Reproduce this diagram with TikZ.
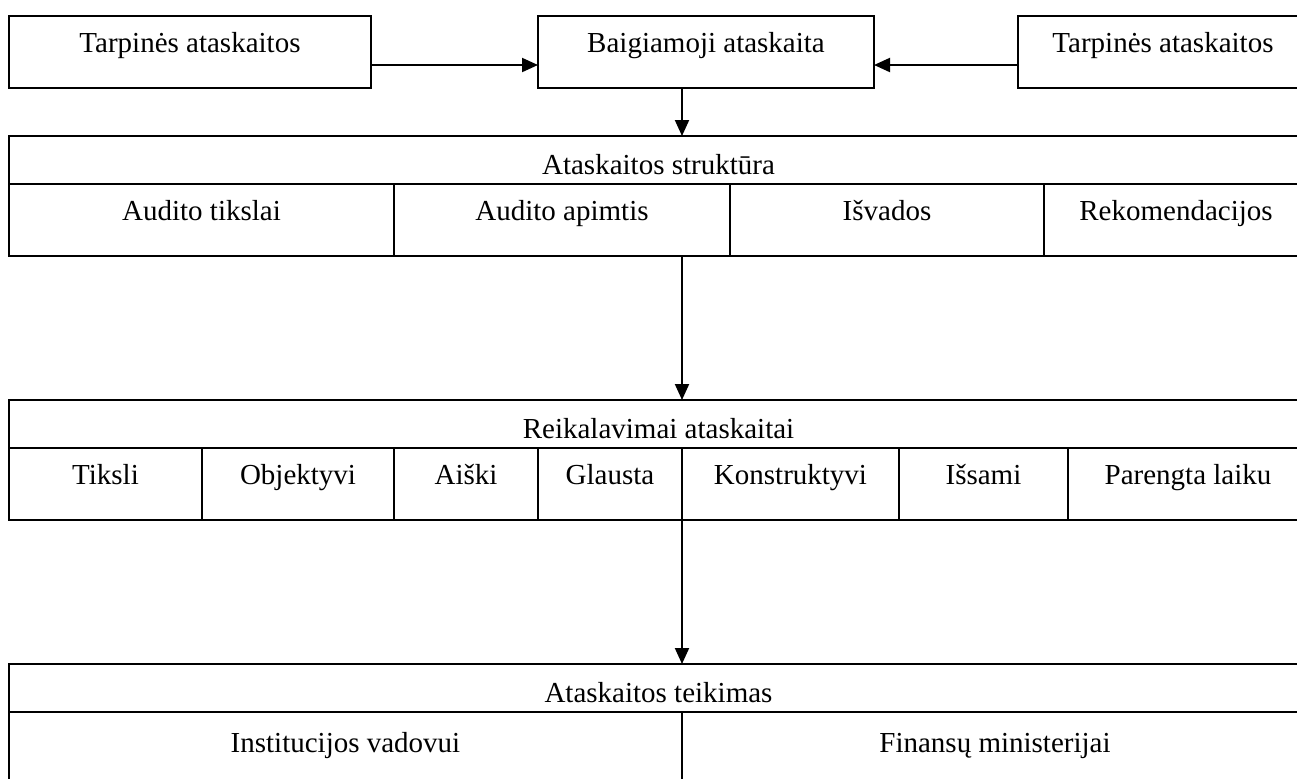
\documentclass[tikz,border=0pt]{standalone}
\usepackage{fontspec}
\setmainfont{Liberation Serif}
\usetikzlibrary{arrows.meta,positioning,calc}

\begin{document}
\begin{tikzpicture}[
    x=0.5pt, y=-0.5pt,
    every node/.style={font=\fontsize{14.5pt}{17pt}\selectfont},
    box/.style={draw, line width=1pt, inner sep=0pt, outer sep=0pt, anchor=north west, text height=8pt, text depth=8pt},
    topbox/.style={box, minimum height=36pt},
    headbox/.style={box, minimum height=24pt, text height=14pt, text depth=0pt},
    cellbox/.style={box, minimum height=36pt},
    arr/.style={-{Triangle[length=8pt, width=7pt]}, line width=1pt}
]
\useasboundingbox (0,0) rectangle (1297,778);

% Top row: reports
\node[topbox, minimum width=181pt] (tarpL) at (9,16) {Tarpinės ataskaitos};
\node[topbox, minimum width=168pt] (baig) at (538,16) {Baigiamoji ataskaita};
\node[topbox, minimum width=145pt] (tarpR) at (1018,16) {Tarpinės ataskaitos};

\coordinate (axis) at (682,0);

% Report structure
\node[headbox, minimum width=649.5pt] (strHead) at (9,136) {Ataskaitos struktūra};
\node[cellbox, minimum width=192.5pt] (tikslai) at (strHead.south west) {Audito tikslai};
\node[cellbox, minimum width=168pt, right=0pt of tikslai] (apimtis) {Audito apimtis};
\node[cellbox, minimum width=157pt, right=0pt of apimtis] (isvados) {Išvados};
\node[cellbox, minimum width=132pt, right=0pt of isvados] (rekom) {Rekomendacijos};

% Requirements
\node[headbox, minimum width=649.5pt] (reqHead) at (9,400) {Reikalavimai ataskaitai};
\node[cellbox, minimum width=96.5pt] (tiksli) at (reqHead.south west) {Tiksli};
\node[cellbox, minimum width=96pt, right=0pt of tiksli] (objekt) {Objektyvi};
\node[cellbox, minimum width=72pt, right=0pt of objekt] (aiski) {Aiški};
\node[cellbox, minimum width=72pt, right=0pt of aiski] (glausta) {Glausta};
\node[cellbox, minimum width=108.5pt, right=0pt of glausta] (konstr) {Konstruktyvi};
\node[cellbox, minimum width=84.5pt, right=0pt of konstr] (issami) {Išsami};
\node[cellbox, minimum width=120pt, right=0pt of issami] (laiku) {Parengta laiku};

% Submission
\node[headbox, minimum width=649.5pt] (subHead) at (9,664) {Ataskaitos teikimas};
\node[cellbox, minimum height=40pt, minimum width=336.5pt] (vadovui) at (subHead.south west) {Institucijos vadovui};
\node[cellbox, minimum height=40pt, minimum width=313pt, right=0pt of vadovui] (minist) {Finansų ministerijai};

% Arrows
\draw[arr] ([yshift=-6.5pt]tarpL.east) -- ([yshift=-6.5pt]baig.west);
\draw[arr] ([yshift=-6.5pt]tarpR.west) -- ([yshift=-6.5pt]baig.east);
\draw[arr] (baig.south -| axis) -- (strHead.north -| axis);
\draw[arr] (tikslai.south -| axis) -- (reqHead.north -| axis);
\draw[arr] (glausta.south east) -- (subHead.north -| axis);

\end{tikzpicture}
\end{document}
